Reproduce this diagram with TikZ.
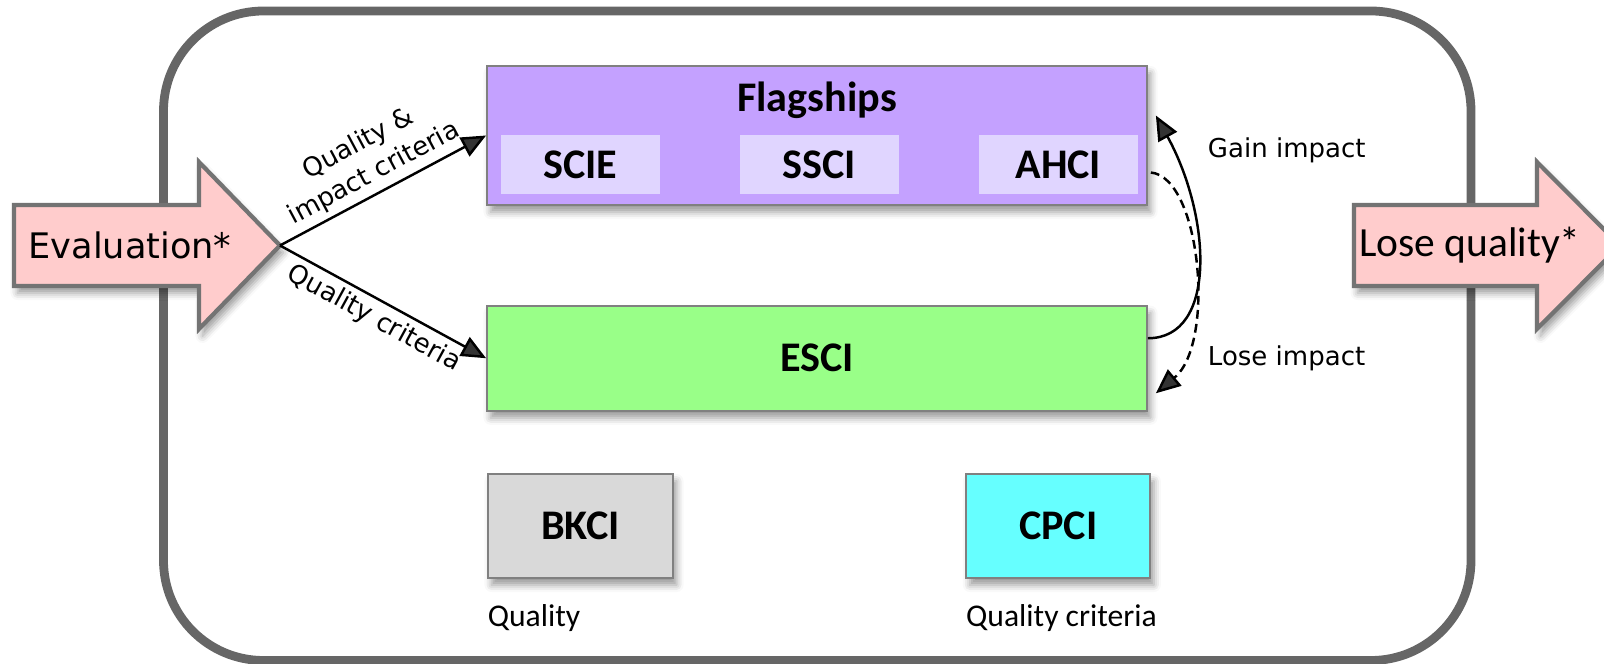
\documentclass[tikz,border=0pt]{standalone}
\usepackage{fontspec}
\setmainfont{Carlito}
\newfontfamily\dejavu{DejaVu Sans}
\usetikzlibrary{positioning,arrows.meta,shadows.blur}
\definecolor{flagfill}{HTML}{C4A1FF}
\definecolor{subfill}{HTML}{E0D5FF}
\definecolor{escifill}{HTML}{99FF88}
\definecolor{bkcifill}{HTML}{D9D9D9}
\definecolor{cpcifill}{HTML}{66FFFF}
\definecolor{pinkfill}{HTML}{FFCCCC}
\definecolor{framegray}{HTML}{666666}

\begin{document}
\begin{tikzpicture}[>={Triangle[length=7pt,width=6pt]},
    boxshadow/.style={blur shadow={shadow xshift=1pt,shadow yshift=-2pt,shadow blur radius=2pt,shadow opacity=40}},
    box/.style={draw=black!50, line width=0.5pt, boxshadow, inner sep=0pt,
        font=\fontsize{12}{14}\selectfont\bfseries},
    subbox/.style={fill=subfill, minimum width=1.59cm, minimum height=0.59cm, inner sep=0pt,
        font=\fontsize{12}{14}\selectfont\bfseries},
    bigarrow/.style={fill=pinkfill, draw=black!55, line width=1.2pt, boxshadow},
    flowlabel/.style={font=\dejavu\fontsize{7.4}{9.5}\selectfont, inner sep=1.5pt},
    note/.style={font=\fontsize{9}{11}\selectfont, inner sep=0pt}]
    \useasboundingbox (0,0) rectangle (16.04,6.64);
    \clip (0,0) rectangle (16.04,6.64);
    \draw[framegray, line width=2.5pt, rounded corners=1cm] (1.635,0.035) rectangle (14.71,6.53);

    \node[box, fill=flagfill, minimum width=6.6cm, minimum height=1.39cm] (flag) at (8.17,5.285) {};
    \node[font=\fontsize{12}{14}\selectfont\bfseries] (flagtitle) at (8.17,5.64) {Flagships};
    \node[subbox] (scie) at (5.805,4.995) {SCIE};
    \node[subbox, right=0.785cm of scie] (ssci) {SSCI};
    \node[subbox, right=0.785cm of ssci] (ahci) {AHCI};
    \node[box, fill=escifill, minimum width=6.6cm, minimum height=1.05cm, below=0.99cm of flag] (esci) {ESCI};
    \node[box, fill=bkcifill, minimum width=1.85cm, minimum height=1.04cm] (bkci) at ([yshift=-3.615cm]scie.center) {BKCI};
    \node[box, fill=cpcifill, minimum width=1.84cm, minimum height=1.04cm] (cpci) at ([yshift=-3.615cm]ahci.center) {CPCI};
    \node[note, anchor=west] (bkcinote) at ([yshift=-0.39cm]bkci.south west) {Quality};
    \node[note, anchor=west] (cpcinote) at ([yshift=-0.39cm]cpci.south west) {Quality criteria};

    \draw[bigarrow] (0.14,3.78) -- (1.99,3.78) -- (1.99,3.35) -- (2.80,4.185) -- (1.99,5.02) -- (1.99,4.59) -- (0.14,4.59) -- cycle;
    \coordinate (evaltip) at (2.80,4.185);
    \node[font=\dejavu\fontsize{10}{12}\selectfont] (eval) at (1.30,4.19) {Evaluation*};
    \draw[bigarrow] (13.54,3.78) -- (15.37,3.78) -- (15.37,3.35) -- (16.20,4.185) -- (15.37,5.02) -- (15.37,4.59) -- (13.54,4.59) -- cycle;
    \node[font=\fontsize{11.8}{14}\selectfont] (lose) at (14.70,4.19) {Lose quality*};

    \draw[->, line width=0.7pt] (evaltip) -- node[flowlabel, sloped, above, align=center] {Quality \&\\impact criteria} (flag.west);
    \draw[->, line width=0.7pt] (evaltip) -- node[flowlabel, sloped, below] {Quality criteria} (esci.west);
    \draw[->, line width=0.7pt] ([yshift=0.2cm]esci.east) .. controls +(0.7,0) and +(0.55,-1.0) .. ([xshift=0.08cm,yshift=0.2cm]flag.east);
    \draw[->, line width=0.7pt, dash pattern=on 2.5pt off 1.5pt] ([xshift=0.03cm,yshift=-0.37cm]flag.east) .. controls +(0.5,-0.05) and +(0.6,0.5) .. ([xshift=0.08cm,yshift=-0.35cm]esci.east);
    \node[flowlabel, anchor=west] (gain) at (12.02,5.14) {Gain impact};
    \node[flowlabel, anchor=west] (loseimp) at (12.02,3.06) {Lose impact};
\end{tikzpicture}
\end{document}
